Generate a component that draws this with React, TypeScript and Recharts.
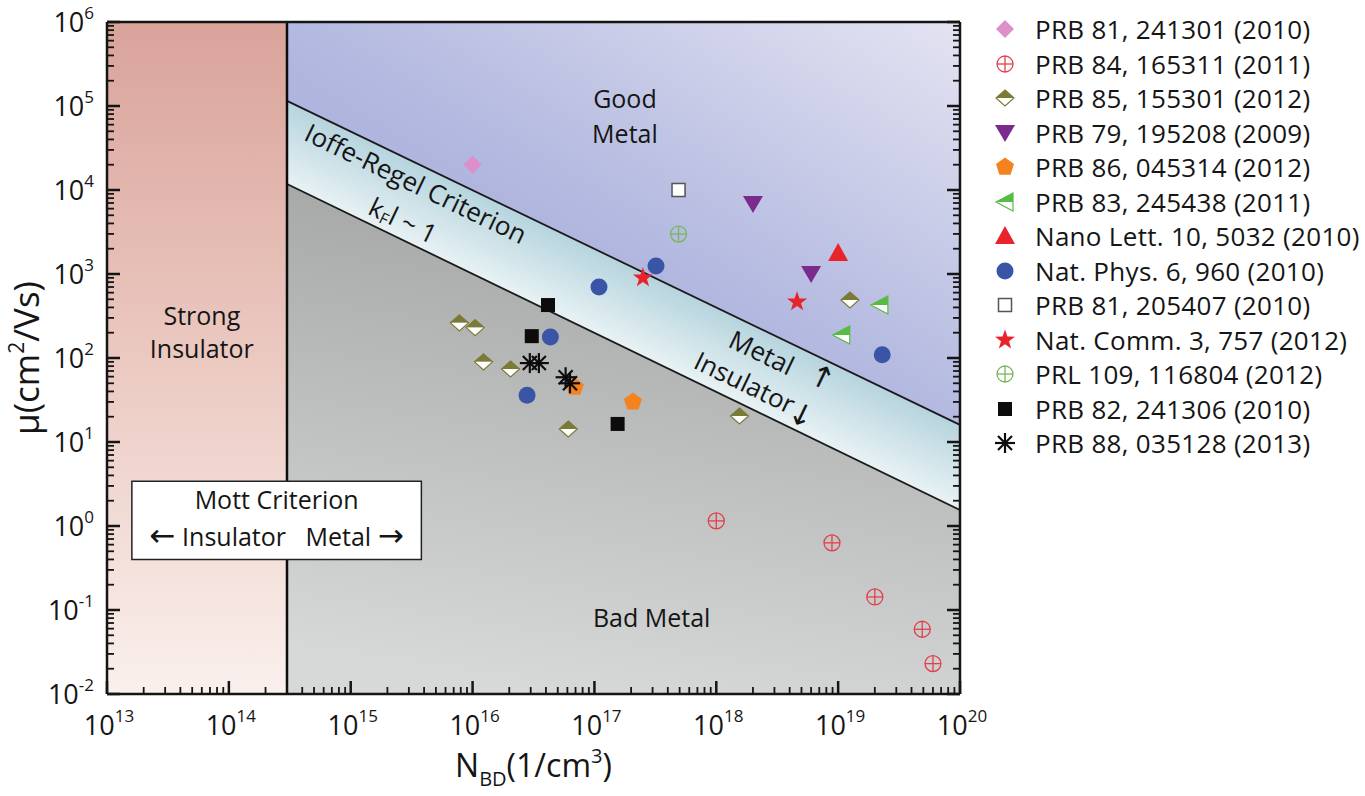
import React from "react";
import {
  Area,
  ComposedChart,
  Legend,
  ReferenceArea,
  ReferenceDot,
  ReferenceLine,
  Scatter,
  XAxis,
  YAxis,
} from "recharts";

const FONT = "'Open Sans', 'Noto Sans', sans-serif";
const ARROW_FONT = "'DejaVu Sans', sans-serif";
const INK = "#151515";

// axes (log10 decades)
const xDecades = [13, 14, 15, 16, 17, 18, 19, 20];
const yDecades = [-2, -1, 0, 1, 2, 3, 4, 5, 6];
const minorSteps = [1, 2, 3, 4, 5, 6, 7, 8, 9];

function logTicks(decades: number[]) {
  const out: number[] = [];
  decades.forEach((d, i) => {
    if (i === decades.length - 1) {
      out.push(10 ** d);
      return;
    }
    minorSteps.forEach((m) => out.push(m * 10 ** d));
  });
  return out;
}
const xTicks = logTicks(xDecades);
const yTicks = logTicks(yDecades);
const xDomain = [1e13, 1e20];
const yDomain = [1e-2, 1e6];

// region boundaries
const mottEdge = 3e14;
const zoneX = [3e14, 1e20];
const ioffeUpper = [1.15e5, 16];
const ioffeLower = [1.18e4, 1.55];

const redZone = [
  { x: 1e13, r: [1e-2, 1e6] },
  { x: 3e14, r: [1e-2, 1e6] },
];
const goodZone = zoneX.map((x, i) => ({ x, r: [ioffeUpper[i], 1e6] }));
const bandZone = zoneX.map((x, i) => ({ x, r: [ioffeLower[i], ioffeUpper[i]] }));
const badZone = zoneX.map((x, i) => ({ x, r: [1e-2, ioffeLower[i]] }));

// data series: x = N_BD (1/cm^3), y = mobility (cm^2/Vs)
const prb81_241301 = [{ x: 1.0e16, y: 2.0e4 }];
const prb84_165311 = [
  { x: 1.0e18, y: 1.15 },
  { x: 8.9e18, y: 0.63 },
  { x: 2.0e19, y: 0.143 },
  { x: 4.9e19, y: 0.059 },
  { x: 6.0e19, y: 0.023 },
];
const prb85_155301 = [
  { x: 7.8e15, y: 262 },
  { x: 1.05e16, y: 230 },
  { x: 1.23e16, y: 90 },
  { x: 2.05e16, y: 74 },
  { x: 6.1e16, y: 14.3 },
  { x: 1.55e18, y: 20.4 },
  { x: 1.25e19, y: 490 },
];
const prb79_195208 = [
  { x: 2.0e18, y: 6800 },
  { x: 6.0e18, y: 1000 },
];
const prb86_045314 = [
  { x: 2.07e17, y: 30 },
  { x: 6.9e16, y: 45 },
];
const prb83_245438 = [
  { x: 2.2e19, y: 427 },
  { x: 1.07e19, y: 188 },
];
const nanoLett10 = [{ x: 1.0e19, y: 1780 }];
const natPhys6 = [
  { x: 3.2e17, y: 1245 },
  { x: 1.09e17, y: 700 },
  { x: 4.35e16, y: 178 },
  { x: 2.8e16, y: 36 },
  { x: 2.3e19, y: 109 },
];
const prb81_205407 = [{ x: 4.9e17, y: 1.0e4 }];
const natComm3 = [
  { x: 2.5e17, y: 900 },
  { x: 4.6e18, y: 466 },
];
const prl109 = [{ x: 4.9e17, y: 2990 }];
const prb82_241306 = [
  { x: 4.16e16, y: 427 },
  { x: 3.06e16, y: 182 },
  { x: 1.55e17, y: 16.4 },
];
const prb88_035128 = [
  { x: 2.95e16, y: 87 },
  { x: 3.5e16, y: 87 },
  { x: 5.8e16, y: 59 },
  { x: 6.3e16, y: 50 },
];

const SERIES = [
  { name: "PRB 81, 241301 (2010)", kind: "diamond", data: prb81_241301 },
  { name: "PRB 84, 165311 (2011)", kind: "crossRed", data: prb84_165311 },
  { name: "PRB 85, 155301 (2012)", kind: "halfDiamond", data: prb85_155301 },
  { name: "PRB 79, 195208 (2009)", kind: "triDown", data: prb79_195208 },
  { name: "PRB 86, 045314 (2012)", kind: "pentagon", data: prb86_045314 },
  { name: "PRB 83, 245438 (2011)", kind: "triLeft", data: prb83_245438 },
  { name: "Nano Lett. 10, 5032 (2010)", kind: "triUp", data: nanoLett10 },
  { name: "Nat. Phys. 6, 960 (2010)", kind: "circle", data: natPhys6 },
  { name: "PRB 81, 205407 (2010)", kind: "openSquare", data: prb81_205407 },
  { name: "Nat. Comm. 3, 757 (2012)", kind: "star", data: natComm3 },
  { name: "PRL 109, 116804 (2012)", kind: "crossGreen", data: prl109 },
  { name: "PRB 82, 241306 (2010)", kind: "square", data: prb82_241306 },
  { name: "PRB 88, 035128 (2013)", kind: "asterisk", data: prb88_035128 },
];

function polyPoints(cx: number, cy: number, r: number, n: number, start: number) {
  const pts: string[] = [];
  for (let k = 0; k < n; k++) {
    const a = ((start + (360 / n) * k) * Math.PI) / 180;
    pts.push(`${cx + r * Math.cos(a)},${cy + r * Math.sin(a)}`);
  }
  return pts.join(" ");
}

function starPoints(cx: number, cy: number, ro: number, ri: number) {
  const pts: string[] = [];
  for (let k = 0; k < 10; k++) {
    const r = k % 2 === 0 ? ro : ri;
    const a = ((-90 + 36 * k) * Math.PI) / 180;
    pts.push(`${cx + r * Math.cos(a)},${cy + r * Math.sin(a)}`);
  }
  return pts.join(" ");
}

function Marker({ kind, cx, cy }: { kind: string; cx: number; cy: number }) {
  switch (kind) {
    case "diamond":
      return <polygon points={`${cx},${cy - 9} ${cx + 9},${cy} ${cx},${cy + 9} ${cx - 9},${cy}`} fill="#dd8fca" />;
    case "crossRed":
    case "crossGreen": {
      const c = kind === "crossRed" ? "#e2404c" : "#78b75a";
      return (
        <g stroke={c} strokeWidth={1.3} fill="none">
          <circle cx={cx} cy={cy} r={8} />
          <line x1={cx - 8} x2={cx + 8} y1={cy} y2={cy} />
          <line x1={cx} x2={cx} y1={cy - 8} y2={cy + 8} />
        </g>
      );
    }
    case "halfDiamond":
      return (
        <g>
          <polygon points={`${cx - 9},${cy} ${cx},${cy - 8} ${cx + 9},${cy}`} fill="#7b7b37" />
          <polygon points={`${cx - 9},${cy} ${cx + 9},${cy} ${cx},${cy + 8}`} fill="#fff" />
          <polygon
            points={`${cx},${cy - 8} ${cx + 9},${cy} ${cx},${cy + 8} ${cx - 9},${cy}`}
            fill="none"
            stroke="#7b7b37"
            strokeWidth={1.2}
          />
        </g>
      );
    case "triDown":
      return <polygon points={`${cx - 10},${cy - 8} ${cx + 10},${cy - 8} ${cx},${cy + 9}`} fill="#7a2b8b" />;
    case "triUp":
      return <polygon points={`${cx - 10},${cy + 8} ${cx + 10},${cy + 8} ${cx},${cy - 10}`} fill="#e8232b" />;
    case "pentagon":
      return <polygon points={polyPoints(cx, cy, 9.5, 5, -90)} fill="#f4821f" />;
    case "triLeft":
      return (
        <g>
          <polygon points={`${cx - 9},${cy} ${cx + 8},${cy - 9} ${cx + 8},${cy}`} fill="#58bb44" />
          <polygon points={`${cx - 9},${cy} ${cx + 8},${cy} ${cx + 8},${cy + 9}`} fill="#fff" />
          <polygon
            points={`${cx - 9},${cy} ${cx + 8},${cy - 9} ${cx + 8},${cy + 9}`}
            fill="none"
            stroke="#58bb44"
            strokeWidth={1.2}
          />
        </g>
      );
    case "circle":
      return <circle cx={cx} cy={cy} r={8.5} fill="#3b55a6" />;
    case "openSquare":
      return <rect x={cx - 6.5} y={cy - 6.5} width={13} height={13} fill="#fff" stroke="#555" strokeWidth={1.5} />;
    case "square":
      return <rect x={cx - 7} y={cy - 7} width={14} height={14} fill="#0c0c0c" />;
    case "star":
      return <polygon points={starPoints(cx, cy, 10.5, 4.2)} fill="#e8232b" />;
    case "asterisk":
      return (
        <g stroke="#0c0c0c" strokeWidth={2.2}>
          <line x1={cx} x2={cx} y1={cy - 10} y2={cy + 10} />
          <line x1={cx - 10} x2={cx + 10} y1={cy} y2={cy} />
          <line x1={cx - 7} x2={cx + 7} y1={cy - 7} y2={cy + 7} />
          <line x1={cx - 7} x2={cx + 7} y1={cy + 7} y2={cy - 7} />
        </g>
      );
    default:
      return null;
  }
}

function isMajor(v: number) {
  const e = Math.log10(v);
  return Math.abs(e - Math.round(e)) < 1e-6;
}

function Pow10({ x, y, exp, anchor }: any) {
  return (
    <text x={x} y={y} textAnchor={anchor} fontFamily={FONT} fontSize={27} fill={INK}>
      <tspan>10</tspan>
      <tspan fontSize={17} dy={-13}>
        {exp}
      </tspan>
    </text>
  );
}

const BottomTick = ({ x, y, payload }: any) => {
  const major = isMajor(payload.value);
  return (
    <g>
      <line x1={x} x2={x} y1={y} y2={y - (major ? 13 : 7)} stroke={INK} strokeWidth={major ? 2.5 : 1.8} />
      {major && <Pow10 x={x + 2} y={y + 41} exp={Math.round(Math.log10(payload.value))} anchor="middle" />}
    </g>
  );
};

const TopTick = ({ x, y, payload }: any) => {
  const major = isMajor(payload.value);
  return <line x1={x} x2={x} y1={y} y2={y + (major ? 13 : 7)} stroke={INK} strokeWidth={major ? 2.5 : 1.8} />;
};

const LeftTick = ({ x, y, payload }: any) => {
  const major = isMajor(payload.value);
  return (
    <g>
      <line x1={x} x2={x + (major ? 13 : 7)} y1={y} y2={y} stroke={INK} strokeWidth={major ? 2.5 : 1.8} />
      {major && <Pow10 x={x - 13} y={y + 10} exp={Math.round(Math.log10(payload.value))} anchor="end" />}
    </g>
  );
};

const RightTick = ({ x, y, payload }: any) => {
  const major = isMajor(payload.value);
  return <line x1={x} x2={x - (major ? 13 : 7)} y1={y} y2={y} stroke={INK} strokeWidth={major ? 2.5 : 1.8} />;
};

const XTitle = ({ viewBox }: any) => (
  <text
    x={viewBox.x + viewBox.width / 2}
    y={viewBox.y + 83}
    textAnchor="middle"
    fontFamily={FONT}
    fontSize={32}
    fill={INK}
  >
    <tspan>N</tspan>
    <tspan fontSize={20} dy={9}>
      BD
    </tspan>
    <tspan dy={-9}>(1/cm</tspan>
    <tspan fontSize={20} dy={-14}>
      3
    </tspan>
    <tspan dy={14}>)</tspan>
  </text>
);

const YTitle = ({ viewBox }: any) => {
  const cx = viewBox.x - 8;
  const cy = viewBox.y + viewBox.height / 2;
  return (
    <text
      x={cx}
      y={cy}
      transform={`rotate(-90, ${cx}, ${cy})`}
      textAnchor="middle"
      fontFamily={FONT}
      fontSize={35}
      fill={INK}
    >
      <tspan>μ(cm</tspan>
      <tspan fontSize={21} dy={-15}>
        2
      </tspan>
      <tspan dy={15}>/Vs)</tspan>
    </text>
  );
};

const MottLabel = ({ viewBox }: any) => {
  const cx = viewBox.x + viewBox.width / 2;
  return (
    <g fontFamily={FONT} fontSize={25} fill={INK}>
      <text x={cx} y={viewBox.y + 28} textAnchor="middle">
        Mott Criterion
      </text>
      <text x={cx} y={viewBox.y + 65} textAnchor="middle" style={{ whiteSpace: "pre" }}>
        <tspan fontFamily={ARROW_FONT} fontSize={31}>
          ←
        </tspan>
        <tspan>{" Insulator   Metal "}</tspan>
        <tspan fontFamily={ARROW_FONT} fontSize={31}>
          →
        </tspan>
      </text>
    </g>
  );
};

const ANGLE = 25.7;

function noteShape(lines: string[], gap: number, size: number, rotate = 0, family = FONT) {
  return (p: any) => (
    <g transform={rotate ? `rotate(${rotate}, ${p.cx}, ${p.cy})` : undefined}>
      {lines.map((t, i) => (
        <text
          key={t}
          x={p.cx}
          y={p.cy + i * gap}
          textAnchor="middle"
          dominantBaseline={rotate ? "central" : undefined}
          fontFamily={family}
          fontSize={size}
          fill={INK}
        >
          {t}
        </text>
      ))}
    </g>
  );
}

const kfShape = (p: any) => (
  <text
    x={p.cx}
    y={p.cy}
    transform={`rotate(${ANGLE}, ${p.cx}, ${p.cy})`}
    textAnchor="middle"
    dominantBaseline="central"
    fontFamily={FONT}
    fontSize={26}
    fill={INK}
  >
    <tspan>k</tspan>
    <tspan fontSize={16} dy={7}>
      F
    </tspan>
    <tspan dy={-7}>l ~ 1</tspan>
  </text>
);

const LegendBox = () => (
  <div style={{ fontFamily: FONT, fontSize: 26, color: INK }}>
    {SERIES.map((s) => (
      <div key={s.name} style={{ height: 34.5, display: "flex", alignItems: "center" }}>
        <svg width={30} height={30} style={{ flex: "none" }}>
          <Marker kind={s.kind} cx={15} cy={15} />
        </svg>
        <span style={{ marginLeft: 15, whiteSpace: "nowrap", letterSpacing: 0.3 }}>{s.name}</span>
      </div>
    ))}
  </div>
);

export default function App() {
  return (
    <div style={{ position: "absolute", left: 0, top: 0, background: "#fff" }}>
      <ComposedChart
        width={1365}
        height={796}
        margin={{ top: 21, right: 404, bottom: 62, left: 47 }}
        style={{ fontFamily: FONT }}
      >
        <defs>
          <linearGradient id="gRed" x1="0" y1="0" x2="0" y2="1">
            <stop offset="0" stopColor="#d9a39a" />
            <stop offset="0.5" stopColor="#ebc9c1" />
            <stop offset="1" stopColor="#faf0ed" />
          </linearGradient>
          <linearGradient id="gGood" x1="0" y1="1" x2="1" y2="0">
            <stop offset="0" stopColor="#97a1d4" />
            <stop offset="0.5" stopColor="#b3b9e0" />
            <stop offset="1" stopColor="#e3e3f1" />
          </linearGradient>
          <linearGradient id="gBand" x1="0.5" y1="0.396" x2="0.4" y2="0.522">
            <stop offset="0" stopColor="#b6d4de" />
            <stop offset="1" stopColor="#e8f2f4" />
          </linearGradient>
          <linearGradient id="gBad" x1="0.6" y1="0" x2="0.4" y2="1">
            <stop offset="0" stopColor="#a1a3a3" />
            <stop offset="1" stopColor="#d7d8d8" />
          </linearGradient>
        </defs>

        <XAxis
          dataKey="x"
          type="number"
          scale="log"
          domain={xDomain}
          ticks={xTicks}
          interval={0}
          allowDataOverflow
          height={40}
          tickSize={0}
          tickMargin={0}
          tick={BottomTick}
          axisLine={{ stroke: INK, strokeWidth: 2.5 }}
          label={{ content: XTitle }}
        />
        <XAxis
          xAxisId="top"
          orientation="top"
          type="number"
          scale="log"
          domain={xDomain}
          ticks={xTicks}
          interval={0}
          allowDataOverflow
          height={1}
          tickSize={0}
          tickMargin={0}
          tick={TopTick}
          axisLine={{ stroke: INK, strokeWidth: 2.5 }}
        />
        <YAxis
          dataKey="y"
          type="number"
          scale="log"
          domain={yDomain}
          ticks={yTicks}
          interval={0}
          allowDataOverflow
          width={60}
          tickSize={0}
          tickMargin={0}
          tick={LeftTick}
          axisLine={{ stroke: INK, strokeWidth: 2.5 }}
          label={{ content: YTitle }}
        />
        <YAxis
          yAxisId="right"
          orientation="right"
          type="number"
          scale="log"
          domain={yDomain}
          ticks={yTicks}
          interval={0}
          allowDataOverflow
          width={1}
          tickSize={0}
          tickMargin={0}
          tick={RightTick}
          axisLine={{ stroke: INK, strokeWidth: 2.5 }}
        />

        <Area data={redZone} dataKey="r" type="linear" stroke="none" fill="url(#gRed)" fillOpacity={1} isAnimationActive={false} activeDot={false} />
        <Area data={goodZone} dataKey="r" type="linear" stroke="none" fill="url(#gGood)" fillOpacity={1} isAnimationActive={false} activeDot={false} />
        <Area data={bandZone} dataKey="r" type="linear" stroke="none" fill="url(#gBand)" fillOpacity={1} isAnimationActive={false} activeDot={false} />
        <Area data={badZone} dataKey="r" type="linear" stroke="none" fill="url(#gBad)" fillOpacity={1} isAnimationActive={false} activeDot={false} />

        <ReferenceLine segment={zoneX.map((x, i) => ({ x, y: ioffeUpper[i] }))} stroke="#1a1a1a" strokeWidth={1.8} zIndex={400} />
        <ReferenceLine segment={zoneX.map((x, i) => ({ x, y: ioffeLower[i] }))} stroke="#1a1a1a" strokeWidth={1.8} zIndex={400} />
        <ReferenceLine x={mottEdge} stroke="#0c0c0c" strokeWidth={2.5} zIndex={400} />

        <ReferenceArea
          x1={1.6e13}
          x2={3.8e15}
          y1={0.4}
          y2={3.4}
          fill="#fff"
          fillOpacity={1}
          stroke="#222"
          strokeWidth={1.5}
          zIndex={450}
          label={{ content: MottLabel }}
        />

        {SERIES.map((s) => (
          <Scatter
            key={s.name}
            name={s.name}
            data={s.data}
            isAnimationActive={false}
            shape={(p: any) => <Marker kind={s.kind} cx={p.cx} cy={p.cy} />}
          />
        ))}

        <ReferenceDot x={6e13} y={247} r={1} zIndex={700} shape={noteShape(["Strong", "Insulator"], 33, 25)} />
        <ReferenceDot x={1.78e17} y={9.5e4} r={1} zIndex={700} shape={noteShape(["Good", "Metal"], 35, 25)} />
        <ReferenceDot x={2.95e17} y={0.063} r={1} zIndex={700} shape={noteShape(["Bad Metal"], 0, 25)} />
        <ReferenceDot x={3.44e15} y={1.21e4} r={1} zIndex={700} shape={noteShape(["Ioffe-Regel Criterion"], 0, 26, ANGLE)} />
        <ReferenceDot x={2.7e15} y={4400} r={1} zIndex={700} shape={kfShape} />
        <ReferenceDot x={2.37e18} y={118} r={1} zIndex={700} shape={noteShape(["Metal"], 0, 26, ANGLE)} />
        <ReferenceDot x={1.72e18} y={52} r={1} zIndex={700} shape={noteShape(["Insulator"], 0, 26, ANGLE)} />
        <ReferenceDot x={7.4e18} y={59} r={1} zIndex={700} shape={noteShape(["↑"], 0, 30, ANGLE, ARROW_FONT)} />
        <ReferenceDot x={5.0e18} y={21} r={1} zIndex={700} shape={noteShape(["↓"], 0, 30, ANGLE, ARROW_FONT)} />

        <Legend
          layout="vertical"
          align="center"
          verticalAlign="middle"
          wrapperStyle={{ left: 990, top: 12, width: 375, height: "auto" }}
          content={() => <LegendBox />}
        />
      </ComposedChart>
    </div>
  );
}
